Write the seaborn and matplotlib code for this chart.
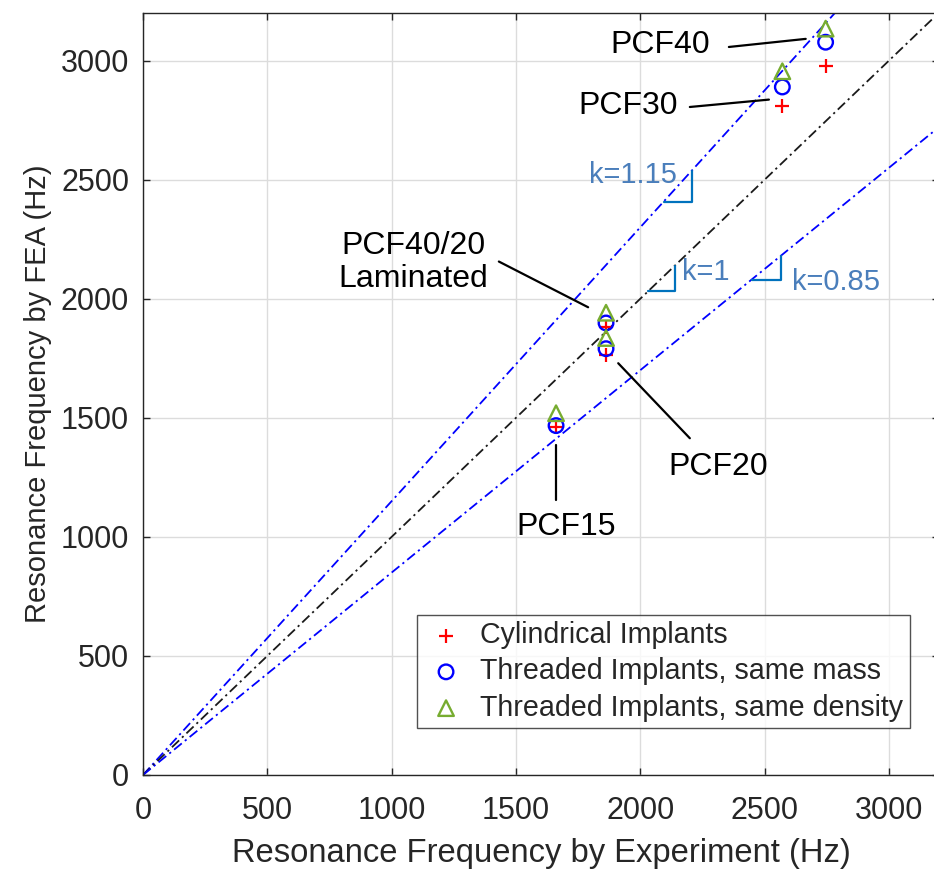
import numpy as np
import pandas as pd
import matplotlib
matplotlib.use("Agg")
import matplotlib.pyplot as plt
import seaborn as sns

# Resonance frequencies: experiment (x) vs FEA (y)
groups = ["PCF15", "PCF20", "PCF40/20 Laminated", "PCF30", "PCF40"]
experiment = [1661, 1862, 1862, 2571, 2745]
cylindrical = [1463, 1765, 1880, 2808, 2976]
threaded_mass = [1467, 1790, 1898, 2889, 3077]
threaded_density = [1519, 1835, 1941, 2955, 3134]

slopes = [1.15, 1.0, 0.85]
slope_labels = ["k=1.15", "k=1", "k=0.85"]

df = pd.DataFrame({"group": groups, "exp": experiment, "cyl": cylindrical,
                   "mass": threaded_mass, "dens": threaded_density})

sns.set_style("white")
plt.rcParams["font.family"] = ["Liberation Sans", "DejaVu Sans"]

fig = plt.figure(figsize=(9.34, 8.73), dpi=100)
ax = fig.add_axes([0.1531, 0.1123, 0.852, 0.8729])

# reference lines y = k x
line_colors = ["blue", "#1a1a1a", "blue"]
for k, c in zip(slopes, line_colors):
    ax.axline((0, 0), slope=k, color=c, lw=1.3, dashes=(5.5, 2.2, 1.2, 2.2), zorder=2)

sns.scatterplot(data=df, x="exp", y="cyl", marker="+", s=110, color="red",
                linewidth=1.6, ax=ax, zorder=3, label="Cylindrical Implants")
sns.scatterplot(data=df, x="exp", y="mass", marker="o", s=110, facecolor="none",
                edgecolor="blue", linewidth=1.7, ax=ax, zorder=4,
                label="Threaded Implants, same mass")
sns.scatterplot(data=df, x="exp", y="dens", marker="^", s=125, facecolor="none",
                edgecolor="#77AC30", linewidth=1.7, ax=ax, zorder=5,
                label="Threaded Implants, same density")

# slope markers: (x1, x2) span, label position, alignment
slope_marks = [(2094, 2206), (2032, 2139), (2447, 2565)]
slope_text = [(2148, 2520, "right"), (2166, 2114, "left"), (2608, 2072, "left")]
for k, (x1, x2), (tx, ty, ha), lab in zip(slopes, slope_marks, slope_text, slope_labels):
    ax.plot([x1, x2, x2], [k * x1, k * x1, k * x2], color="#0072BD", lw=1.6, zorder=3)
    ax.text(tx, ty, lab, color="#4A7EBB", fontsize=21, ha=ha, va="center")

# group labels with leader lines
label_pos = [(1703, 1043), (2313, 1295), (1086, 2153), (1950, 2808), (2079, 3064)]
label_txt = ["PCF15", "PCF20", "PCF40/20\nLaminated", "PCF30", "PCF40"]
leaders = [((1661, 1661), (1387, 1153)), ((1911, 2199), (1729, 1414)),
           ((1431, 1790), (2156, 1964)), ((2199, 2517), (2805, 2836)),
           ((2356, 2665), (3057, 3091))]
for (tx, ty), t, (lx, ly) in zip(label_pos, label_txt, leaders):
    ax.text(tx, ty, t, fontsize=23, ha="center", va="center", color="black",
            linespacing=1.15)
    ax.plot(lx, ly, color="black", lw=1.6, zorder=3)

ax.set_xlim(0, 3200)
ax.set_ylim(0, 3200)
ticks = [0, 500, 1000, 1500, 2000, 2500, 3000]
ax.set_xticks(ticks)
ax.set_yticks(ticks)
ax.grid(True, color="#dcdcdc", lw=1.0)
ax.set_axisbelow(True)
for sp in ax.spines.values():
    sp.set_color("#262626")
    sp.set_linewidth(1.0)
ax.tick_params(direction="in", length=5, width=1.0, colors="#262626",
               labelsize=22, top=True, right=True, bottom=True, left=True)
ax.tick_params(axis="x", pad=15)
ax.tick_params(axis="y", pad=10)
ax.set_xlabel("Resonance Frequency by Experiment (Hz)", fontsize=23.6,
              color="#262626", labelpad=9)
ax.set_ylabel("Resonance Frequency by FEA (Hz)", fontsize=21,
              color="#262626", labelpad=6)

leg = ax.legend(loc="lower right", bbox_to_anchor=(0.9636, 0.0617), fontsize=20.6,
                frameon=True, fancybox=False, edgecolor="#262626",
                handletextpad=0.4, borderpad=0.22, labelspacing=0.29,
                handlelength=1.6, borderaxespad=0)
leg.get_frame().set_linewidth(1.0)

fig.savefig("out.png", dpi=100)
